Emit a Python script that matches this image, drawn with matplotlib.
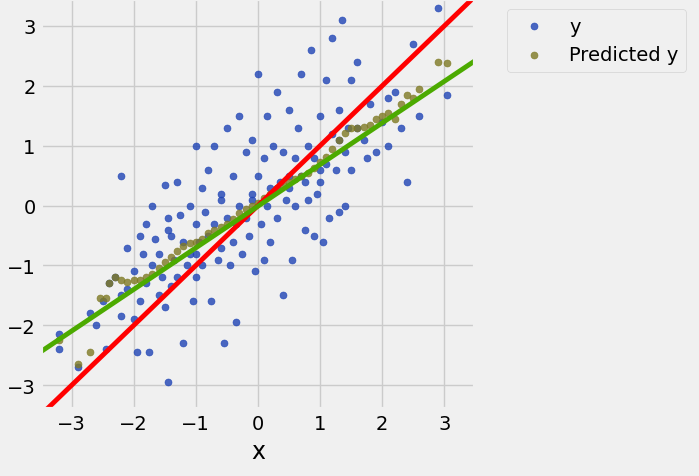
import matplotlib
matplotlib.use("Agg")
import matplotlib.pyplot as plt

x = [-3.2, -3.2, -2.9, -2.7, -2.6, -2.5, -2.45, -2.4, -2.3, -2.2, -2.2, -2.1, -2.1, -2.0, -2.0, -1.95,
     -1.9, -1.9, -1.85, -1.8, -1.8, -1.75, -1.7, -1.7, -1.65, -1.6, -1.6, -1.55, -1.5, -1.5, -1.45, -1.45,
     -1.4, -1.4, -1.35, -1.3, -1.3, -1.25, -1.2, -1.2, -1.15, -1.1, -1.1, -1.05, -1.0, -1.0, -1.0, -0.95,
     -0.9, -0.9, -0.85, -0.8, -0.8, -0.75, -0.7, -0.7, -0.65, -0.6, -0.6, -0.55, -0.5, -0.5, -0.45, -0.4,
     -0.4, -0.35, -0.3, -0.3, -0.25, -0.2, -0.2, -0.15, -0.1, -0.1, -0.05, 0.0, 0.0, 0.05, 0.1, 0.1,
     0.15, 0.2, 0.2, 0.25, 0.3, 0.3, 0.35, 0.4, 0.4, 0.45, 0.5, 0.5, 0.55, 0.6, 0.6, 0.65, 0.7, 0.7,
     0.75, 0.8, 0.8, 0.85, 0.9, 0.9, 0.95, 1.0, 1.0, 1.05, 1.1, 1.1, 1.15, 1.2, 1.2, 1.25, 1.3, 1.3,
     1.35, 1.4, 1.4, 1.45, 1.5, 1.5, 1.6, 1.7, 1.75, 1.8, 1.9, 2.0, 2.1, 2.2, 2.3, 2.4, 2.5, 2.6,
     2.9, 3.05, -1.45, -0.6, 0.3, 1.3, 2.1, -0.35, 0.5, 1.6, -2.2, 0.75, -0.1, 1.0, -1.0, 0.15]
y = [-2.4, -2.15, -2.7, -1.8, -2.0, -1.6, -2.4, -1.3, -1.2, 0.5, -1.85, -0.7, -1.4, -1.9, -1.1, -2.45,
     -0.5, -1.6, -0.8, -0.3, -1.3, -2.45, 0.0, -1.0, -0.55, -0.8, -1.5, -1.2, 0.35, -1.7, -0.2, -2.95,
     -0.5, -1.35, -0.9, 0.4, -1.2, -0.15, -0.6, -2.3, -1.0, 0.0, -0.8, -1.6, 1.0, -0.3, -1.2, -0.6,
     0.3, -1.0, -0.1, 0.6, -0.5, -1.6, 1.0, -0.3, -0.9, 0.1, -0.7, -2.3, 1.3, -0.2, -1.0, 0.5,
     -0.6, -1.95, 1.5, 0.0, -0.8, 0.9, -0.2, -0.5, 1.1, 0.2, -1.1, 2.2, 0.5, -0.3, 0.8, -0.9,
     1.5, 0.3, -0.6, 1.0, 1.9, -0.2, 0.4, 0.9, -1.5, 0.1, 1.6, 0.3, -0.9, 0.8, 0.0, 1.3,
     2.2, 0.5, -0.4, 1.0, 0.1, 2.6, 0.8, -0.5, 0.2, 1.5, 0.4, -0.6, 2.1, 0.7, -0.2, 1.2,
     2.8, 0.6, -0.1, 1.6, 3.1, 0.9, 0.0, 1.3, 2.1, 0.6, 2.4, 1.1, 0.8, 1.7, 0.9, 1.4,
     1.0, 1.9, 1.3, 0.4, 2.7, 1.5, 3.3, 1.85, -0.4, 0.2, 0.3, 1.1, 1.8, -0.3, 0.5, 1.3,
     -1.5, 0.4, 0.1, 0.6, -0.8, 0.0]

# model predictions (olive points)
px = [-3.2, -2.9, -2.7, -2.55, -2.45, -2.4, -2.3, -2.2, -2.1, -2.0, -1.9, -1.8, -1.7, -1.6, -1.5, -1.4,
      -1.3, -1.2, -1.1, -1.0, -0.9, -0.8, -0.7, -0.6, -0.5, -0.4, -0.3, -0.2, -0.1, 0.0, 0.1, 0.2, 0.3,
      0.4, 0.5, 0.6, 0.7, 0.8, 0.9, 1.0, 1.1, 1.2, 1.3, 1.4, 1.5, 1.6, 1.7, 1.8, 1.9, 2.0, 2.1, 2.2,
      2.3, 2.4, 2.5, 2.6, 2.9, 3.05]
py = [-2.25, -2.65, -2.45, -1.55, -1.55, -1.3, -1.2, -1.25, -1.28, -1.25, -1.25, -1.2, -1.15, -1.05, -0.95, -0.85,
      -0.75, -0.68, -0.62, -0.6, -0.55, -0.45, -0.4, -0.35, -0.3, -0.22, -0.12, -0.05, 0.0, 0.05, 0.12, 0.2, 0.3,
      0.35, 0.4, 0.45, 0.5, 0.55, 0.62, 0.72, 0.82, 0.95, 1.1, 1.22, 1.3, 1.3, 1.32, 1.35, 1.45, 1.5, 1.55, 1.45,
      1.7, 1.85, 1.8, 1.95, 2.4, 2.38]

fit_slope = 0.695
fit_icept = -0.01

plt.style.use("fivethirtyeight")
fig = plt.figure(figsize=(6.99, 4.77), dpi=100)
ax = fig.add_axes([0.058, 0.14, 0.622, 0.86])
ax.scatter(x, y, s=25, color="#1f44b5", alpha=0.8, label="y")
ax.scatter(px, py, s=25, color="#7f7a24", alpha=0.8, label="Predicted y")
ax.axline((0, 0), slope=1, color="red", lw=3.5)
ax.axline((0, fit_icept), slope=fit_slope, color="#4caa00", lw=3.5)
ax.set_xlim(-3.5, 3.5)
ax.set_ylim(-3.4, 3.45)
ax.set_xticks(range(-3, 4))
ax.set_yticks(range(-3, 4))
ax.tick_params(labelsize=14)
ax.set_xlabel("x", fontsize=17)
ax.legend(loc="upper left", bbox_to_anchor=(1.05, 1.0), fontsize=14, frameon=True)
fig.savefig("out.png", dpi=100)
